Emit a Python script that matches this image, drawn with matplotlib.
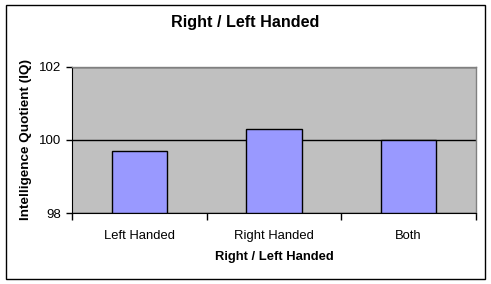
import matplotlib.pyplot as plt
import numpy as np
from matplotlib.patches import Rectangle

plt.rcParams['font.family'] = ['Liberation Sans', 'DejaVu Sans']

# data
categories = ['Left Handed', 'Right Handed', 'Both']
iq_values = [99.7, 100.3, 100.0]
y_ticks = [98, 100, 102]

fig = plt.figure(figsize=(4.91, 2.84), dpi=100)
W, H = 491, 284
ax = fig.add_axes([72 / W, 1 - 213 / H, (476 - 72) / W, (213 - 66.5) / H])

x = np.arange(len(categories))
ax.bar(x, np.array(iq_values) - 98, bottom=98, width=0.41,
       color='#9999FF', edgecolor='black', linewidth=1, zorder=3)

ax.set_facecolor('#C0C0C0')
ax.set_xlim(-0.5, len(categories) - 0.5)
ax.set_ylim(98, 102)
ax.set_yticks(y_ticks)
ax.set_yticklabels([str(t) for t in y_ticks], fontsize=9.5)
ax.yaxis.grid(True, color='black', linewidth=1, zorder=1)
ax.set_axisbelow(True)

# category labels centred, ticks at the category boundaries
ax.set_xticks(x)
ax.set_xticklabels(categories, fontsize=9.4)
ax.tick_params(axis='x', which='major', length=0, pad=12)
ax.set_xticks(np.arange(-0.5, len(categories)), minor=True)
ax.tick_params(axis='x', which='minor', length=5, width=1, color='black', direction='out')
ax.tick_params(axis='y', length=4, width=1, direction='out', pad=4)

for side in ['top', 'right']:
    ax.spines[side].set_color('#808080')
    ax.spines[side].set_linewidth(1)
ax.spines['left'].set_color('black')
ax.spines['bottom'].set_color('black')

ax.set_xlabel('Right / Left Handed', fontsize=9.4, fontweight='bold', labelpad=7)
ax.set_ylabel('Intelligence Quotient (IQ)', fontsize=9.7, fontweight='bold', labelpad=5)

fig.text(0.5 * (6 + 485) / W, 1 - 23 / H, 'Right / Left Handed', ha='center', va='center',
         fontsize=11.6, fontweight='bold')

# outer chart border
fig.patches.append(Rectangle((5.5 / W, 1 - 279 / H), (485 - 5.5) / W, (279 - 5) / H,
                             transform=fig.transFigure, fill=False,
                             edgecolor='black', linewidth=1))

fig.savefig('out.png', dpi=100)
